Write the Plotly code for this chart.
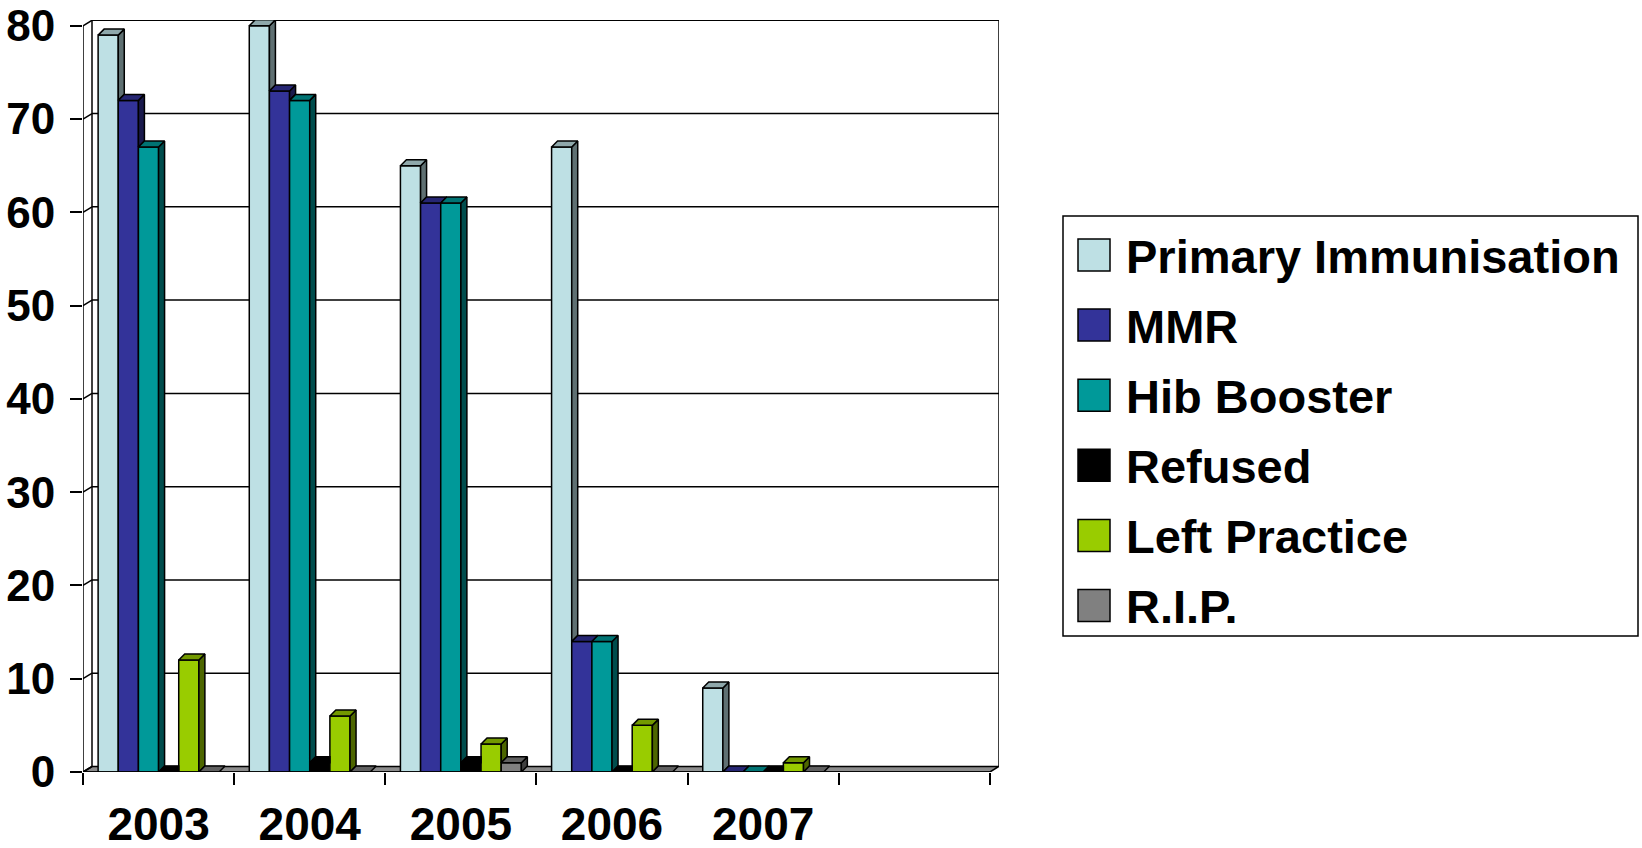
import plotly.graph_objects as go

# ---------------- data ----------------
years = ["2003", "2004", "2005", "2006", "2007", ""]
series_names = ["Primary Immunisation", "MMR", "Hib Booster", "Refused", "Left Practice", "R.I.P."]
primary = [79, 80, 65, 67, 9, None]
mmr = [72, 73, 61, 14, 0, None]
hib_booster = [67, 72, 61, 14, 0, None]
refused = [0, 1, 1, 0, 0, None]
left_practice = [12, 6, 3, 5, 1, None]
rip = [0, 0, 1, 0, 0, None]
y_ticks = [0, 10, 20, 30, 40, 50, 60, 70, 80]

# ---------------- style ----------------
front_colors = ["#BEE0E4", "#333399", "#009999", "#000000", "#99CC00", "#808080"]
top_colors = ["#8FA8AB", "#262673", "#007373", "#000000", "#739900", "#606060"]
side_colors = ["#5F7072", "#1A1A4D", "#004D4D", "#000000", "#4D6600", "#404040"]
FONT = "Liberation Sans, Arial, sans-serif"

W, H = 1642, 848
ML, MR, MT, MB = 83, 643, 20, 76
X_RANGE = [-0.5, 5.56]
Y_RANGE = [0, 80.62]
px_x = (W - ML - MR) / (X_RANGE[1] - X_RANGE[0])
px_y = (H - MT - MB) / (Y_RANGE[1] - Y_RANGE[0])
DX = 6 / px_x       # bar depth (x)
DY = 6 / px_y       # bar depth (y)
WDX = 9 / px_x      # wall depth (x)
WDY = 5.5 / px_y    # wall depth (y)

all_vals = [primary, mmr, hib_booster, refused, left_practice, rip]
n = len(all_vals)
GROUP_W = 0.8
bw = GROUP_W / n
xs = list(range(len(years)))

fig = go.Figure()

# front faces
for i, vals in enumerate(all_vals):
    fig.add_trace(go.Bar(
        x=xs, y=vals, name=series_names[i], width=bw,
        marker=dict(color=front_colors[i], line=dict(color="black", width=1.5)),
        showlegend=False, hoverinfo="x+y+name"))

# 3D side/top faces computed from the data
for i, vals in enumerate(all_vals):
    sx, sy, tx, ty = [], [], [], []
    for c, v in enumerate(vals):
        if v is None:
            continue
        xl = c - GROUP_W / 2 + i * bw
        xr = xl + bw
        nxt = all_vals[i + 1][c] if i + 1 < n else None
        lo = max(nxt, 0) if nxt is not None else 0
        if v > lo:
            sx += [xr, xr + DX, xr + DX, xr, xr, None]
            sy += [lo, lo + DY, v + DY, v, lo, None]
        if nxt is not None and nxt >= v + DY * 0.5:
            tx += [xl, xl + DX, xr, xr, xl, None]
        else:
            tx += [xl, xl + DX, xr + DX, xr, xl, None]
        ty += [v, v + DY, v + DY, v, v, None]
    fig.add_trace(go.Scatter(x=sx, y=sy, mode="lines", fill="toself",
                             fillcolor=side_colors[i], line=dict(color="black", width=1.5),
                             showlegend=False, hoverinfo="skip"))
    fig.add_trace(go.Scatter(x=tx, y=ty, mode="lines", fill="toself",
                             fillcolor=top_colors[i], line=dict(color="black", width=1.5),
                             showlegend=False, hoverinfo="skip"))

shapes = []
LINE = dict(color="black", width=1.5)
x0w = X_RANGE[0] + WDX
x_end_front = len(years) - 0.5
# floor
shapes.append(dict(type="path", xref="x", yref="y", layer="below",
                   path=f"M {X_RANGE[0]},0 L {x_end_front},0 L {x_end_front + WDX},{WDY} L {x0w},{WDY} Z",
                   fillcolor="#8C8C8C", line=LINE))
# back wall gridlines
for v in y_ticks[1:]:
    shapes.append(dict(type="line", xref="x", yref="y", layer="below",
                       x0=x0w, x1=X_RANGE[1], y0=v + WDY, y1=v + WDY, line=LINE))
# back wall borders
shapes.append(dict(type="line", xref="x", yref="y", layer="below",
                   x0=x0w, x1=x0w, y0=WDY, y1=Y_RANGE[1], line=LINE))
shapes.append(dict(type="line", xref="x", yref="y", layer="below",
                   x0=x0w, x1=X_RANGE[1], y0=Y_RANGE[1], y1=Y_RANGE[1], line=LINE))
shapes.append(dict(type="line", xref="x", yref="y", layer="below",
                   x0=X_RANGE[1], x1=X_RANGE[1], y0=WDY, y1=Y_RANGE[1], line=LINE))
# left side wall: front axis line and connectors
shapes.append(dict(type="line", xref="x", yref="y", layer="below",
                   x0=X_RANGE[0], x1=X_RANGE[0], y0=0, y1=y_ticks[-1], line=LINE))
for v in y_ticks:
    shapes.append(dict(type="line", xref="x", yref="y", layer="below",
                       x0=X_RANGE[0], x1=x0w, y0=v, y1=v + WDY, line=LINE))
# front bottom axis line
shapes.append(dict(type="line", xref="x", yref="y", layer="above",
                   x0=X_RANGE[0], x1=x_end_front, y0=0, y1=0, line=LINE))

# manual legend (pixel -> paper)
PW, PH = W - ML - MR, H - MT - MB
def pxx(X):
    return (X - ML) / PW
def pxy(Y):
    return (H - MB - Y) / PH

shapes.append(dict(type="rect", xref="paper", yref="paper",
                   x0=pxx(1063), x1=pxx(1638), y0=pxy(636), y1=pxy(216),
                   line=dict(color="black", width=1.5), fillcolor="white"))
annotations = []
for k, name in enumerate(series_names):
    yc = 255 + 70.1 * k
    shapes.append(dict(type="rect", xref="paper", yref="paper",
                       x0=pxx(1078), x1=pxx(1110), y0=pxy(yc + 16), y1=pxy(yc - 16),
                       line=dict(color="black", width=1.5), fillcolor=front_colors[k]))
    annotations.append(dict(xref="paper", yref="paper", x=pxx(1124), y=pxy(yc + 1),
                            xanchor="left", yanchor="middle", showarrow=False, text=name,
                            font=dict(family=FONT, size=47, color="black", weight="bold")))

fig.update_layout(
    width=W, height=H,
    margin=dict(l=ML, r=MR, t=MT, b=MB, pad=0),
    plot_bgcolor="white", paper_bgcolor="white",
    showlegend=False,
    barmode="group", bargap=0.2, bargroupgap=0,
    shapes=shapes, annotations=annotations,
    xaxis=dict(range=X_RANGE, tickvals=xs, ticktext=years, ticks="",
               showgrid=False, zeroline=False, showline=False, automargin=False,
               tickfont=dict(family=FONT, size=46, color="black", weight="bold"),
               ticklabelstandoff=21,
               minor=dict(tickvals=[k - 0.5 for k in range(len(years) + 1)], ticks="outside",
                          ticklen=12, tickwidth=1.5, tickcolor="black", showgrid=False)),
    yaxis=dict(range=Y_RANGE, tickvals=y_ticks, ticks="outside", ticklen=12,
               tickwidth=1.5, tickcolor="black",
               showgrid=False, zeroline=False, showline=False, automargin=False,
               tickfont=dict(family=FONT, size=44, color="black", weight="bold"),
               ticklabelstandoff=6),
)

fig.write_html("out.html", config={"displayModeBar": False},
               post_script="document.body.style.margin='0';document.body.style.overflow='hidden';")
